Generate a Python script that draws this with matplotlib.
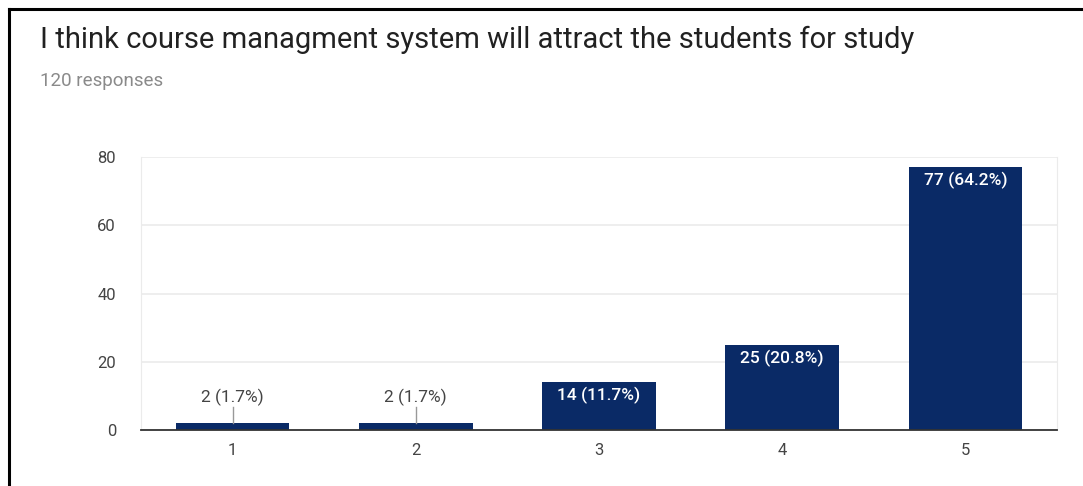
import matplotlib.pyplot as plt
from matplotlib.lines import Line2D

plt.rcParams['font.family'] = ['Roboto', 'DejaVu Sans']

# survey data
categories = ['1', '2', '3', '4', '5']
counts = [2, 2, 14, 25, 77]
percents = [1.7, 1.7, 11.7, 20.8, 64.2]
yticks = [0, 20, 40, 60, 80]

bar_color = '#0a2a66'

fig = plt.figure(figsize=(10.83, 4.86), dpi=100)
ax = fig.add_axes([141/1083, 1 - 430/486, (1057 - 141)/1083, (430 - 157)/486])

x = list(range(len(categories)))
ax.bar(x, counts, width=0.62, color=bar_color, zorder=3)

ax.set_xlim(-0.5, len(categories) - 0.5)
ax.set_ylim(0, 80)
ax.set_yticks(yticks)
ax.set_xticks(x)
ax.set_xticklabels(categories)
ax.tick_params(length=0, labelsize=12, labelcolor='#444444')
ax.tick_params(axis='y', pad=18)
ax.tick_params(axis='x', pad=9)
ax.grid(axis='y', color='#ebebeb', linewidth=1.2, zorder=0)

ax.spines['top'].set_visible(False)
ax.spines['left'].set_color('#ebebeb')
ax.spines['right'].set_color('#ebebeb')
ax.spines['bottom'].set_color('#333333')
ax.spines['bottom'].set_linewidth(1.3)
ax.spines['bottom'].set_zorder(4)

# value labels
for xi, c, p in zip(x, counts, percents):
    label = f'{c} ({p}%)'
    if c < 10:
        ax.plot([xi, xi], [c, c + 4.7], color='#999999', linewidth=1, zorder=4)
        ax.text(xi, c + 7.7, label, ha='center', va='center',
                fontsize=12.5, color='#444444')
    else:
        ax.text(xi, c - 4, label, ha='center', va='center',
                fontsize=12.5, color='white', fontweight='medium')

fig.text(40/1083, 1 - 40/486, 'I think course managment system will attract the students for study',
         fontsize=21, color='#212121', va='center', ha='left')
fig.text(40/1083, 1 - 81/486, '120 responses', fontsize=13.5, color='#8a8a8a',
         va='center', ha='left')

# frame lines of the screenshot
fig.add_artist(Line2D([9/1083, 1], [1 - 9/486, 1 - 9/486], color='black',
                      linewidth=2.2, transform=fig.transFigure))
fig.add_artist(Line2D([9/1083, 9/1083], [0, 1 - 9/486], color='black',
                      linewidth=2.2, transform=fig.transFigure))

fig.savefig('out.png', dpi=100)
